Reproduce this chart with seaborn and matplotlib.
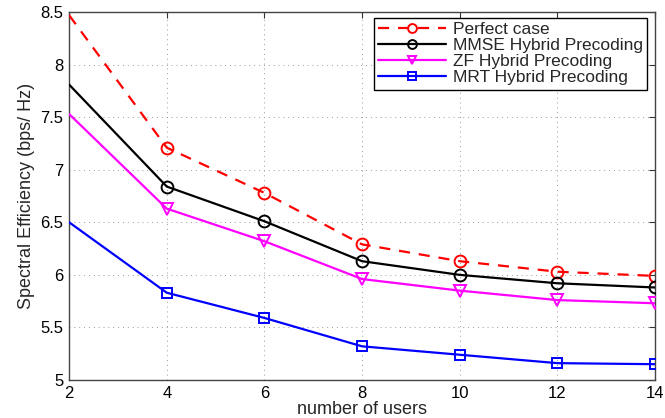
import numpy as np
import pandas as pd
import matplotlib
matplotlib.use('Agg')
import matplotlib.pyplot as plt
import seaborn as sns

# ==================== data ====================
users = [2, 4, 6, 8, 10, 12, 14]
perfect = [8.47, 7.21, 6.78, 6.29, 6.13, 6.03, 5.99]
mmse = [7.81, 6.84, 6.51, 6.13, 6.00, 5.92, 5.88]
zf = [7.53, 6.63, 6.32, 5.96, 5.85, 5.76, 5.73]
mrt = [6.50, 5.83, 5.59, 5.32, 5.24, 5.16, 5.15]

x_ticks = [2, 4, 6, 8, 10, 12, 14]
y_ticks = [5, 5.5, 6, 6.5, 7, 7.5, 8, 8.5]
y_tick_labels = ['5', '5.5', '6', '6.5', '7', '7.5', '8', '8.5']

sns.set_theme(style='white')
plt.rcParams['font.family'] = ['Liberation Sans', 'DejaVu Sans']

fig = plt.figure(figsize=(6.65, 4.18), dpi=100)
ax = fig.add_axes([0.104, 0.091, 0.881, 0.880])

# (name, values, colour, marker, linestyle)
series = [
    ('Perfect case', perfect, '#ff0000', 'o', (0, (5, 4))),
    ('MMSE Hybrid Precoding', mmse, '#000000', 'o', '-'),
    ('ZF Hybrid Precoding', zf, '#ff00ff', 'v', '-'),
    ('MRT Hybrid Precoding', mrt, '#0000ff', 's', '-'),
]

for name, vals, col, mk, ls in series:
    df = pd.DataFrame({'users': users, 'se': vals})
    # no marker on the first point (x = 2), as in the original figure
    sns.lineplot(data=df, x='users', y='se', ax=ax, color=col, label=name,
                 marker=mk, markersize=8.5 if mk != 's' else 7.5, markevery=list(range(1, len(users))),
                 markerfacecolor='none', markeredgecolor=col, markeredgewidth=1.4,
                 linewidth=1.6, linestyle=ls, zorder=3)

ax.set_xlim(2, 14)
ax.set_ylim(5, 8.5)
ax.set_xticks(x_ticks)
ax.set_yticks(y_ticks)
ax.set_yticklabels(y_tick_labels)
ax.tick_params(direction='in', top=True, right=True, length=4, width=0.8,
               labelsize=12, colors='#333333', labelcolor='black', pad=4)
ax.grid(True, linestyle=(0, (1, 4)), color='#999999', linewidth=0.7)
for sp in ax.spines.values():
    sp.set_color('#444444')
    sp.set_linewidth(1.0)

ax.set_xlabel('number of users', fontsize=13, labelpad=0)
ax.set_ylabel('Spectral Efficiency (bps/ Hz)', fontsize=13, labelpad=4)

leg = ax.legend(loc='upper right', bbox_to_anchor=(0.987, 0.985), fontsize=12.5,
                frameon=True, fancybox=False, framealpha=1, edgecolor='black',
                handlelength=3.9, labelspacing=0.05, borderpad=0.25,
                handletextpad=0.4, borderaxespad=0, markerscale=0.75)
leg.get_frame().set_linewidth(1.0)

fig.savefig('out.png', dpi=100)
